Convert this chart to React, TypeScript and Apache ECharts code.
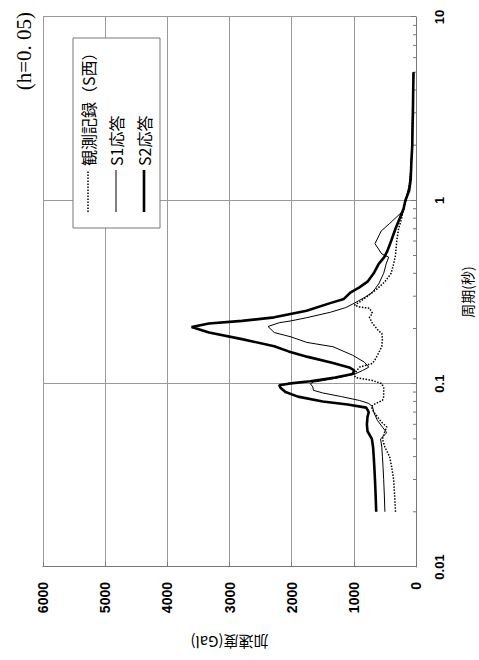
import React, { useEffect, useRef } from "react";
import * as echarts from "echarts";

const seriesNames = ["観測記録（S西）", "S1応答", "S2応答"];

const periodTicks = [0.01, 0.1, 1, 10];
const minorTickPeriods = [
  0.02, 0.03, 0.04, 0.05, 0.06, 0.07, 0.08, 0.09,
  0.2, 0.3, 0.4, 0.5, 0.6, 0.7, 0.8, 0.9,
  2, 3, 4, 5, 6, 7, 8, 9,
];

const obsPeriod = [
  0.02, 0.025, 0.03, 0.035, 0.04, 0.045, 0.05, 0.055, 0.058, 0.062, 0.066, 0.07, 0.075, 0.078,
  0.081, 0.085, 0.09, 0.095, 0.1, 0.104, 0.108, 0.112, 0.118, 0.123, 0.129, 0.135, 0.147, 0.16,
  0.175, 0.188, 0.194, 0.213, 0.23, 0.242, 0.258, 0.262, 0.268, 0.28, 0.3, 0.33, 0.36, 0.4,
  0.45, 0.5, 0.6, 0.7, 0.8, 0.9, 1.0, 1.2, 1.5, 2, 3, 4, 5,
];
const obsAccel = [
  330, 345, 360, 390, 425, 500, 540, 500, 470, 560, 620, 680, 720, 650,
  540, 520, 520, 520, 550, 700, 970, 1000, 950, 910, 700, 660, 600, 550,
  540, 550, 600, 700, 750, 700, 750, 910, 990, 900, 780, 620, 500, 400,
  360, 330, 310, 280, 230, 200, 160, 110, 80, 65, 55, 45, 40,
];

const s1Period = [
  0.02, 0.025, 0.03, 0.035, 0.04, 0.045, 0.05, 0.054, 0.058, 0.063, 0.07, 0.075, 0.078, 0.081,
  0.085, 0.089, 0.092, 0.096, 0.1, 0.102, 0.104, 0.108, 0.113, 0.118, 0.123, 0.131, 0.143, 0.159,
  0.168, 0.18, 0.19, 0.205, 0.215, 0.22, 0.229, 0.245, 0.26, 0.275, 0.297, 0.315, 0.35, 0.4,
  0.45, 0.49, 0.51, 0.58, 0.68, 0.75, 0.88, 1.0, 1.2, 1.5, 2, 3, 4, 5,
];
const s1Accel = [
  500, 510, 520, 530, 540, 550, 570, 470, 540, 620, 680, 700, 760, 910,
  1200, 1500, 1650, 1660, 1700, 1650, 1490, 1230, 980, 860, 760, 830, 1020, 1335,
  1760, 2010, 2280, 2380, 2200, 2010, 1760, 1380, 1130, 990, 815, 700, 600, 520,
  480, 440, 550, 660, 560, 420, 200, 170, 110, 80, 65, 55, 45, 40,
];

const s2Period = [
  0.02, 0.025, 0.03, 0.035, 0.04, 0.045, 0.05, 0.055, 0.06, 0.066, 0.07, 0.074, 0.077, 0.08,
  0.085, 0.09, 0.095, 0.098, 0.1, 0.103, 0.108, 0.113, 0.118, 0.122, 0.13, 0.14, 0.15, 0.16,
  0.175, 0.19, 0.204, 0.213, 0.22, 0.23, 0.25, 0.275, 0.29, 0.315, 0.335, 0.36, 0.4, 0.45,
  0.49, 0.53, 0.6, 0.7, 0.8, 0.9, 1.0, 1.13, 1.3, 1.6, 2, 2.5, 3, 4, 5,
];
const s2Accel = [
  640, 650, 660, 670, 680, 690, 710, 780, 790, 780, 760, 800, 1100, 1500,
  1900, 2100, 2180, 2200, 2050, 1700, 1300, 1020, 990, 1060, 1350, 1740, 2050, 2280,
  2800, 3330, 3610, 3330, 2800, 2280, 1760, 1380, 1160, 1050, 910, 780, 680, 600,
  510, 460, 400, 330, 260, 200, 170, 110, 85, 75, 60, 55, 50, 45, 40,
];

const pairs = (p: number[], a: number[]) => p.map((t, i) => [t, a[i]]);

export default function App() {
  const ref = useRef<HTMLDivElement>(null);
  useEffect(() => {
    if (!ref.current) return;
    const chart = echarts.init(ref.current, null, { renderer: "svg" });
    const labelFont = "Liberation Sans, Arial, sans-serif";
    const cjkFont = "Noto Sans CJK JP, sans-serif";
    const lineStyles = [
      { width: 1.5, dash: [1.5, 1.5] as number[] | null },
      { width: 1, dash: null },
      { width: 2.6, dash: null },
    ];
    const legendX = 432;
    const legendY = 73;
    const legendElems: any[] = [
      {
        type: "rect",
        shape: { x: legendX, y: legendY, width: 190, height: 87 },
        style: { fill: "#fff", stroke: "#777", lineWidth: 1 },
        z: 10,
      },
    ];
    seriesNames.forEach((name, i) => {
      const cy = legendY + 15 + i * 28;
      legendElems.push({
        type: "line",
        shape: { x1: legendX + 16, y1: cy, x2: legendX + 58, y2: cy },
        style: {
          stroke: "#000",
          lineWidth: lineStyles[i].width,
          lineDash: lineStyles[i].dash || undefined,
        },
        z: 11,
      });
      legendElems.push({
        type: "text",
        x: legendX + 62,
        y: cy,
        style: {
          text: name,
          fill: "#000",
          font: `16px ${cjkFont}`,
          verticalAlign: "middle",
          align: "left",
        },
        z: 11,
      });
    });
    chart.setOption({
      animation: false,
      backgroundColor: "#fff",
      title: {
        text: "(h=0. 05)",
        right: 7,
        top: 8,
        textStyle: {
          fontFamily: "Liberation Serif, Times New Roman, serif",
          fontSize: 21,
          fontWeight: "normal",
          color: "#000",
        },
      },
      graphic: legendElems,
      grid: { left: 93, right: 17, top: 43, bottom: 54 },
      xAxis: {
        type: "log",
        logBase: 10,
        min: 0.01,
        max: 10,
        name: "周期(秒)",
        nameLocation: "middle",
        nameGap: 44,
        nameTextStyle: { fontSize: 14, fontFamily: cjkFont, color: "#000" },
        axisLine: { lineStyle: { color: "#777", width: 1 } },
        axisTick: { inside: true, length: 5, lineStyle: { color: "#777" } },
        axisLabel: {
          margin: 17,
          fontSize: 13,
          fontWeight: "bold",
          fontFamily: labelFont,
          color: "#000",
          formatter: (v: number) => {
            const m = periodTicks.find((t) => Math.abs(t - v) / t < 1e-6);
            return m === undefined ? "" : String(m);
          },
        },
        splitLine: { show: true, lineStyle: { color: "#999", width: 1 } },
        minorTick: { show: false },
      },
      yAxis: {
        type: "value",
        min: 0,
        max: 6000,
        interval: 1000,
        name: "加速度(Gal)",
        nameLocation: "middle",
        nameRotate: 90,
        nameGap: 68,
        nameTextStyle: { fontSize: 15, fontFamily: cjkFont, color: "#000" },
        axisLine: { show: true, lineStyle: { color: "#777", width: 1 } },
        axisTick: { show: true, inside: true, length: 5, lineStyle: { color: "#777" } },
        axisLabel: {
          margin: 15,
          fontSize: 14,
          fontWeight: "bold",
          fontFamily: labelFont,
          color: "#000",
          formatter: (v: number) => String(v),
        },
        splitLine: { show: true, lineStyle: { color: "#999", width: 1 } },
      },
      series: [
        {
          name: seriesNames[0],
          type: "line",
          data: pairs(obsPeriod, obsAccel),
          symbol: "none",
          lineStyle: { color: "#000", width: 1.5, type: "dotted" },
          itemStyle: { color: "#000" },
          z: 3,
        },
        {
          name: seriesNames[1],
          type: "line",
          data: pairs(s1Period, s1Accel),
          symbol: "none",
          lineStyle: { color: "#000", width: 1 },
          itemStyle: { color: "#000" },
          z: 4,
        },
        {
          name: seriesNames[2],
          type: "line",
          data: pairs(s2Period, s2Accel),
          symbol: "none",
          lineStyle: { color: "#000", width: 2.6 },
          itemStyle: { color: "#000" },
          z: 5,
        },
        {
          type: "custom",
          silent: true,
          clip: false,
          data: minorTickPeriods.map((t) => [t, 0]),
          renderItem: (params: any, api: any) => {
            const p = api.coord([api.value(0), 0]);
            return {
              type: "line",
              shape: { x1: p[0], y1: p[1], x2: p[0], y2: p[1] - 3 },
              style: { stroke: "#777", lineWidth: 1 },
            };
          },
          z: 2,
        },
      ],
    });
    return () => chart.dispose();
  }, []);
  return (
    <div
      ref={ref}
      style={{
        position: "absolute",
        left: 0,
        top: 0,
        width: 660,
        height: 479,
        transformOrigin: "0 0",
        transform: "translateY(660px) rotate(-90deg)",
        background: "#fff",
      }}
    />
  );
}
